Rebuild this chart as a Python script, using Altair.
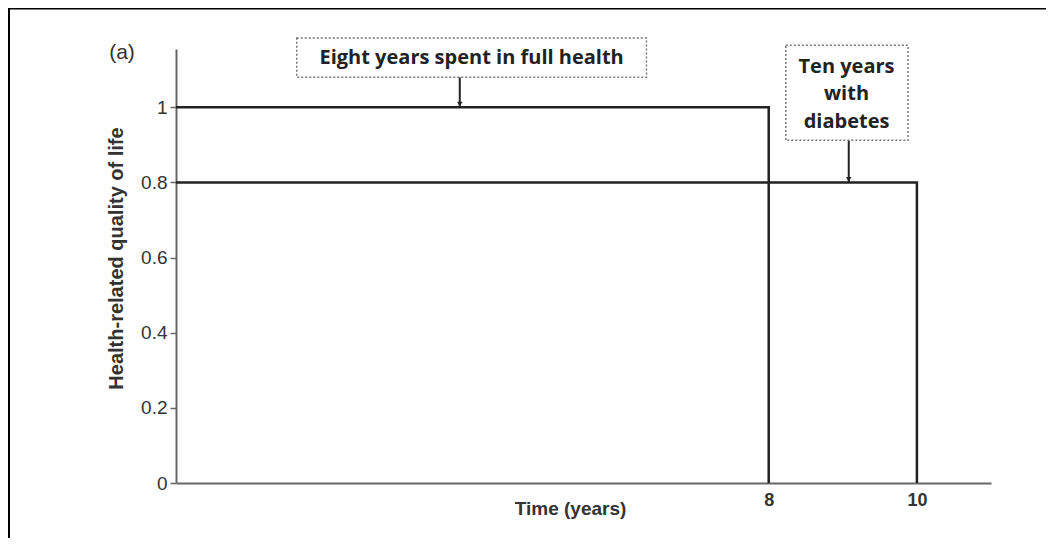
import altair as alt
import pandas as pd

# --- data ---
health_x = [0, 8, 8]
health_y = [1.0, 1.0, 0.0]
diab_x = [0, 10, 10]
diab_y = [0.8, 0.8, 0.0]

y_ticks = [0, 0.2, 0.4, 0.6, 0.8, 1.0]
x_ticks = [8, 10]

# annotation boxes (data units)
box_x = [1.63, 8.23]
box_x2 = [6.35, 9.88]
box_y = [1.184, 1.165]
box_y2 = [1.080, 0.912]

label_text = ["Eight years spent in full health", "Ten years", "with", "diabetes"]
label_x = [3.99, 9.05, 9.05, 9.05]
label_y = [1.131, 1.107, 1.035, 0.960]

arrow_x = [3.83, 9.08]
arrow_y = [1.080, 0.912]
arrow_y2 = [1.0, 0.8]

lines = pd.DataFrame({
    "t": health_x + diab_x,
    "q": health_y + diab_y,
    "s": ["health"] * 3 + ["diabetes"] * 3,
    "o": [0, 1, 2, 0, 1, 2],
})
boxes = pd.DataFrame({"x": box_x, "x2": box_x2, "y": box_y, "y2": box_y2})
labels = pd.DataFrame({"x": label_x, "y": label_y, "text": label_text})
arrows = pd.DataFrame({"x": arrow_x, "y": arrow_y, "y2": arrow_y2})
one = pd.DataFrame({"a": [0]})

xs = alt.Scale(domain=[0, 11], nice=False, zero=False)
ys = alt.Scale(domain=[0, 1.155], nice=False, zero=False)

base_line = alt.Chart(lines).mark_line(color="#222222", strokeWidth=2.5).encode(
    x=alt.X("t:Q", scale=xs, axis=alt.Axis(
        values=x_ticks, format="~g", tickSize=0, labelPadding=8, labelFontSize=18,
        labelFontWeight="bold", labelColor="#333333", labelFont="Liberation Sans",
        title="Time (years)", titleFont="Liberation Sans", titleFontSize=19,
        titleFontWeight="bold", titleColor="#333333", titleX=394, titleY=25,
        titleBaseline="middle", titleAlign="center",
        domainColor="#666666", domainWidth=2, grid=False)),
    y=alt.Y("q:Q", scale=ys, axis=alt.Axis(
        values=y_ticks, format="~g", tickSize=6, tickColor="#666666", tickWidth=1.5,
        labelPadding=3, labelFontSize=19, labelColor="#333333", labelFont="Liberation Sans",
        title="Health-related quality of life", titleFont="Liberation Sans",
        titleFontSize=20, titleFontWeight="bold", titleColor="#333333",
        titleX=-60, titleY=209, titleAngle=270, titleBaseline="middle",
        titleAlign="center", domainColor="#666666", domainWidth=2, grid=False)),
    detail="s:N",
    order="o:Q",
)

box_layer = alt.Chart(boxes).mark_rect(
    fill="white", stroke="#777777", strokeWidth=1.5, strokeDash=[2, 2]
).encode(x=alt.X("x:Q", scale=xs), x2="x2", y=alt.Y("y:Q", scale=ys), y2="y2")

text_layer = alt.Chart(labels).mark_text(
    font="Open Sans", fontWeight="bold", fontSize=20, color="#222222",
    align="center", baseline="middle"
).encode(x=alt.X("x:Q", scale=xs), y=alt.Y("y:Q", scale=ys), text="text:N")

arrow_layer = alt.Chart(arrows).mark_rule(color="#222222", strokeWidth=2).encode(
    x=alt.X("x:Q", scale=xs), y=alt.Y("y:Q", scale=ys), y2="y2")

head_layer = alt.Chart(arrows).mark_point(
    shape="triangle-down", filled=True, color="#222222", size=30, opacity=1, yOffset=-3
).encode(x=alt.X("x:Q", scale=xs), y=alt.Y("y2:Q", scale=ys))

panel_label = alt.Chart(one).mark_text(
    text="(a)", font="Liberation Sans", fontSize=21, color="#333333",
    align="center", baseline="middle"
).encode(x=alt.value(-54), y=alt.value(4))

frame_left = alt.Chart(one).mark_rule(color="#000000", strokeWidth=2).encode(
    x=alt.value(-167), y=alt.value(-41), y2=alt.value(489))
frame_top = alt.Chart(one).mark_rule(color="#000000", strokeWidth=2).encode(
    x=alt.value(-168), x2=alt.value(870), y=alt.value(-40.5))

chart = alt.layer(
    base_line, arrow_layer, head_layer, box_layer, text_layer,
    panel_label, frame_left, frame_top
).properties(
    width=815, height=434,
    autosize=alt.AutoSizeParams(type="none"),
    padding={"left": 168, "top": 41, "right": 55, "bottom": 55},
).configure_view(stroke=None)

chart.save("out.html", embed_options={"renderer": "svg", "actions": False})
